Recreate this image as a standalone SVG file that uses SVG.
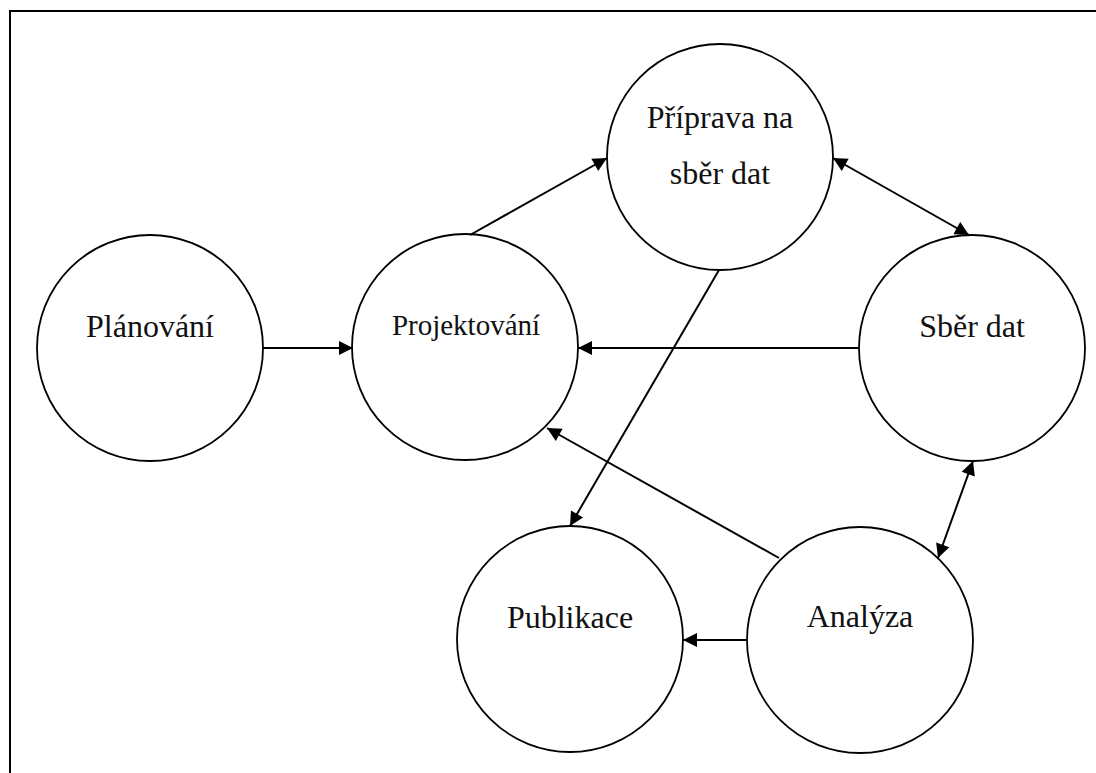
<svg xmlns="http://www.w3.org/2000/svg" width="1096" height="773" viewBox="0 0 1096 773">
  <style>
    .node circle { fill: #ffffff; stroke: #000000; stroke-width: 1.8; }
    .node text { font-family: "Liberation Serif", "Times New Roman", serif; font-size: 32px; fill: #111111; text-anchor: middle; }
    .node text.small { font-size: 29px; }
    .edge { stroke: #000000; stroke-width: 2; fill: none; marker-end: url(#arrow); }
    .edge.both { marker-start: url(#arrow); }
    .frame { stroke: #000000; stroke-width: 2; fill: none; }
  </style>
  <defs>
    <marker id="arrow" markerUnits="userSpaceOnUse" markerWidth="16" markerHeight="16" viewBox="0 0 16 16" refX="15" refY="8" orient="auto-start-reverse">
      <path d="M1,1 L15,8 L1,15 Z" fill="#000000"/>
    </marker>
  </defs>

  <!-- open frame: top and left sides only -->
  <path class="frame" d="M10,773 L10,11 L1096,11"/>

  <g id="node-planovani" class="node">
    <circle cx="150" cy="348" r="113"/>
    <text x="150" y="337">Plánování</text>
  </g>
  <g id="node-projektovani" class="node">
    <circle cx="465" cy="347" r="113"/>
    <text class="small" x="466" y="335">Projektování</text>
  </g>
  <g id="node-priprava" class="node">
    <circle cx="720" cy="157" r="113"/>
    <text x="720" y="128">Příprava na</text>
    <text x="720" y="184">sběr dat</text>
  </g>
  <g id="node-sber" class="node">
    <circle cx="972" cy="348" r="113"/>
    <text x="972" y="337">Sběr dat</text>
  </g>
  <g id="node-publikace" class="node">
    <circle cx="570" cy="639" r="113"/>
    <text x="570" y="628">Publikace</text>
  </g>
  <g id="node-analyza" class="node">
    <circle cx="860" cy="640" r="113"/>
    <text x="860" y="627">Analýza</text>
  </g>

  <g id="connectors">
    <line class="edge" x1="263" y1="348" x2="353" y2="348"/>
    <line class="edge" x1="470" y1="235" x2="607" y2="158"/>
    <line class="edge both" x1="833" y1="158" x2="969" y2="235"/>
    <line class="edge" x1="859" y1="348" x2="578" y2="348"/>
    <line class="edge" x1="719" y1="270" x2="570" y2="526"/>
    <line class="edge" x1="779" y1="558" x2="547" y2="428"/>
    <line class="edge both" x1="973" y1="461" x2="938" y2="558"/>
    <line class="edge" x1="747" y1="640" x2="683" y2="640"/>
  </g>
</svg>
